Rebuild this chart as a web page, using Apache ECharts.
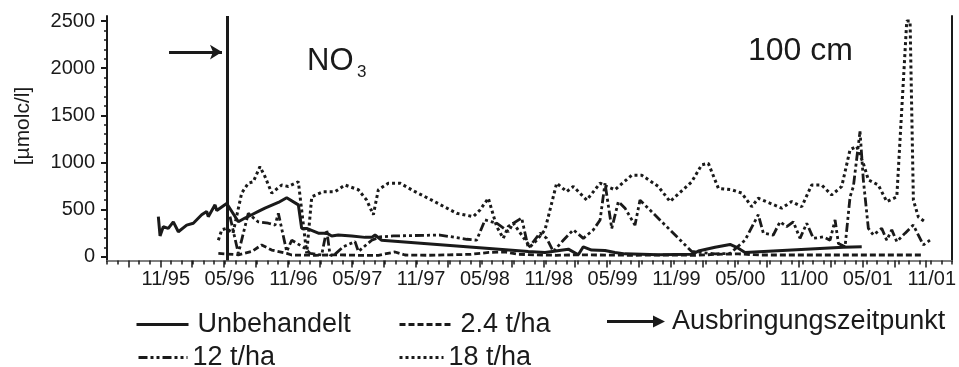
<!DOCTYPE html>
<html>
<head>
<meta charset="utf-8">
<script src="https://cdn.jsdelivr.net/npm/echarts@6/dist/echarts.min.js"></script>
<style>
html, body { margin: 0; padding: 0; background: #fff; }
#chart { width: 959px; height: 367px; }
</style>
</head>
<body>
<div id="chart"></div>
<script>
// x = months since 05/95 (11/95 = 6, 05/96 = 12 ...), y = µmolc/l
var tickLabels = ['11/95', '05/96', '11/96', '05/97', '11/97', '05/98', '11/98',
    '05/99', '11/99', '05/00', '11/00', '05/01', '11/01'];
var applicationMonth = 12.25;
var arrowFrom = [6.8, 2170];
var arrowTo = [11.75, 2170];

var unbehandelt = [
    [5.80, 425], [5.96, 220], [6.26, 318], [6.73, 300], [7.20, 370], [7.67, 265], [8.45, 335],
    [9.07, 355], [9.85, 445], [10.32, 480], [10.47, 425], [11.10, 550], [11.26, 490], [12.19, 565],
    [13.28, 370], [13.90, 410], [14.53, 445], [15.15, 480], [15.77, 515], [17.02, 575], [17.80, 625],
    [18.89, 550], [19.20, 300], [19.67, 300], [20.76, 250], [21.54, 250], [22.01, 220], [22.62, 230],
    [23.88, 220], [25.12, 205], [25.75, 205], [26.06, 230], [26.68, 175], [40.39, 55], [41.95, 45],
    [44.13, 80], [45.06, 20], [45.53, 105], [46.31, 70], [47.56, 65], [48.49, 45], [49.43, 30],
    [52.54, 20], [55.67, 25], [56.29, 60], [57.85, 100], [59.25, 130], [60.02, 90], [60.65, 45],
    [69.84, 100], [71.56, 105]
];
var t24 = [
    [11.41, 35], [12.03, 30], [13.28, 20], [14.53, 55], [15.46, 125], [16.40, 70], [17.80, 35],
    [18.27, 18], [20.5, 15], [22.5, 20], [24.5, 15], [26.37, 15], [27.93, 50], [28.86, 18],
    [31, 15], [33, 20], [35, 25], [36.7, 45], [38.21, 50], [39.5, 25], [41, 20], [43, 15],
    [45, 20], [47, 18], [50, 15], [53, 18], [56, 15], [58, 25], [60, 30], [62, 18], [65, 18],
    [68, 18], [71, 18], [74, 18], [77.3, 18]
];
var t12 = [
    [12.50, 425], [13.28, 35], [14.21, 460], [15.12, 370], [16.08, 355], [16.71, 335], [17.02, 460],
    [17.80, 55], [18.27, 175], [19.51, 90], [19.99, 35], [21.07, 18], [21.54, 285], [21.85, 18],
    [22.16, 10], [23.09, 105], [24.19, 160], [24.50, 55], [25.75, 175], [26.53, 210], [27.77, 220],
    [32.13, 230], [34.63, 185], [35.56, 175], [36.34, 390], [37.43, 355], [38.52, 265], [38.99, 355],
    [39.77, 410], [40.39, 90], [41.48, 250], [42.11, 195], [42.73, 55], [43.66, 175], [44.60, 285],
    [45.53, 195], [46.47, 285], [47.10, 390], [47.56, 780], [48.19, 300], [48.81, 585], [49.43, 515],
    [50.36, 335], [50.83, 600], [55.67, 55], [57.85, 30], [59.25, 35], [60.65, 175], [61.89, 445],
    [62.36, 250], [63.29, 230], [63.92, 370], [64.55, 320], [65.16, 370], [65.79, 195], [66.42, 355],
    [67.04, 195], [67.97, 210], [68.60, 175], [69.07, 390], [69.38, 140], [70.00, 105], [70.47, 635],
    [70.78, 745], [71.40, 1330], [71.71, 815], [72.18, 300], [72.65, 230], [73.43, 300], [73.90, 175],
    [74.37, 285], [74.84, 160], [75.62, 250], [76.38, 335], [77.32, 125], [77.94, 175]
];
var t18 = [
    [11.41, 175], [11.73, 285], [12.13, 300], [12.78, 250], [13.59, 675], [14.21, 780], [14.68, 795],
    [15.30, 955], [15.77, 850], [16.40, 675], [17.33, 760], [17.95, 745], [18.89, 795], [19.67, 35],
    [20.14, 635], [21.22, 690], [22.32, 690], [23.25, 760], [24.50, 710], [25.28, 600], [25.90, 445],
    [26.37, 710], [27.30, 780], [28.39, 780], [29.80, 690], [31.36, 600], [33.70, 460], [35.25, 425],
    [35.87, 495], [36.65, 620], [37.43, 320], [38.05, 195], [38.52, 320], [38.99, 355], [40.55, 105],
    [41.17, 175], [41.95, 285], [43.04, 780], [43.98, 690], [44.60, 745], [45.85, 600], [47.10, 780],
    [47.72, 745], [48.49, 710], [50.06, 865], [50.99, 865], [52.54, 745], [53.64, 585], [55.67, 795],
    [56.60, 975], [57.22, 990], [58.16, 725], [59.40, 710], [60.34, 675], [61.28, 530], [61.89, 620],
    [64.08, 515], [65.01, 585], [65.95, 530], [66.88, 760], [67.82, 760], [68.75, 655], [69.69, 745],
    [70.47, 1135], [71.09, 1170], [71.71, 990], [72.18, 815], [73.11, 760], [73.90, 585], [74.84, 635],
    [75.77, 2500], [76.08, 2500], [76.39, 600], [76.86, 420], [77.48, 370]
];

var ink = '#1a1a1a';
var font = 'Liberation Sans, Arial, sans-serif';

// plot box in pixels
var boxLeft = 107, boxRight = 7, boxTop = 16, boxBottom = 106.5;
var xMin = 1, xMax = 80;
var pxPerMonth = (959 - boxLeft - boxRight) / (xMax - xMin);
function px(m) { return boxLeft + (m - xMin) * pxPerMonth; }

function lineLegend(name, left, top, width, pad) {
    return {
        data: [name], left: left, top: top, itemWidth: width, itemHeight: 14, selectedMode: false,
        itemStyle: {opacity: 0},
        lineStyle: {width: 3},
        textStyle: {fontSize: 27, fontFamily: font, color: ink, padding: [0, 0, 0, pad]}
    };
}

var myChart = echarts.init(document.getElementById('chart'));
var option = {
    animation: false,
    grid: [
        {left: boxLeft, right: boxRight, top: boxTop, bottom: boxBottom},            // frame
        {left: boxLeft, right: boxRight, top: 21, bottom: 110.3},                    // data
        {left: px(3), right: 959 - px(78), top: boxTop, bottom: boxBottom}           // quarter ticks
    ],
    xAxis: [
        {gridIndex: 0, type: 'value', min: xMin, max: xMax, interval: 1,
            axisLine: {show: true, lineStyle: {color: ink, width: 2}},
            axisTick: {show: true, length: 4, lineStyle: {color: ink, width: 1.5}},
            axisLabel: {show: false}, splitLine: {show: false}},
        {gridIndex: 0, type: 'value', position: 'top', min: xMin, max: xMax,
            axisLine: {show: true, lineStyle: {color: '#808080', width: 2}},
            axisTick: {show: false}, axisLabel: {show: false}, splitLine: {show: false}},
        {gridIndex: 1, type: 'value', min: xMin, max: xMax, show: false},
        {gridIndex: 2, type: 'value', min: 3, max: 78, interval: 3,
            axisLine: {show: false},
            axisTick: {show: true, length: 7, lineStyle: {color: ink, width: 1.5}},
            axisLabel: {
                show: true, showMinLabel: true, showMaxLabel: true,
                margin: 9, padding: [0, 0, 0, 11],
                fontSize: 20, fontFamily: font, color: ink,
                formatter: function (v) {
                    return v % 6 === 0 ? tickLabels[v / 6 - 1] : '';
                }
            },
            splitLine: {show: false}}
    ],
    yAxis: [
        {gridIndex: 0, type: 'value', min: 0, max: 1,
            axisLine: {show: true, lineStyle: {color: ink, width: 2}},
            axisTick: {show: false}, axisLabel: {show: false}, splitLine: {show: false}},
        {gridIndex: 0, type: 'value', position: 'right', min: 0, max: 1,
            axisLine: {show: true, lineStyle: {color: ink, width: 2}},
            axisTick: {show: false}, axisLabel: {show: false}, splitLine: {show: false}},
        {gridIndex: 1, type: 'value', min: 0, max: 2500, interval: 500,
            axisLine: {show: false},
            axisTick: {show: true, length: 6, lineStyle: {color: ink, width: 2}},
            minorTick: {show: true, splitNumber: 5, length: 3, lineStyle: {color: ink, width: 1.5}},
            axisLabel: {fontSize: 20, fontFamily: font, color: ink, margin: 12,
                formatter: function (v) { return String(v); }},
            splitLine: {show: false}},
        {gridIndex: 2, type: 'value', min: 0, max: 1, show: false}
    ],
    legend: [
        lineLegend('Unbehandelt', 130, 306, 52, 4),
        lineLegend('2.4 t/ha', 393, 306, 54, 2),
        lineLegend('12 t/ha', 132, 339, 49, 0),
        lineLegend('18 t/ha', 393, 339, 44, 0),
        {data: ['Ausbringungszeitpunkt'], left: 602, top: 303, itemWidth: 58, itemHeight: 12, selectedMode: false,
            icon: 'path://M0,4.5L46,4.5L46,0L58,6L46,12L46,7.5L0,7.5Z',
            textStyle: {fontSize: 27, fontFamily: font, color: ink, padding: [0, 0, 0, 2]}}
    ],
    graphic: [
        {type: 'text', x: 23, y: 126, rotation: Math.PI / 2,
            style: {text: '[µmolc/l]', fontSize: 21, fontFamily: font, fill: ink, align: 'center', verticalAlign: 'middle'}},
        {type: 'text', x: 307, y: 61,
            style: {text: 'NO', fontSize: 31, fontFamily: font, fill: ink, verticalAlign: 'middle'}},
        {type: 'text', x: 357, y: 72,
            style: {text: '3', fontSize: 17, fontFamily: font, fill: ink, verticalAlign: 'middle'}},
        {type: 'text', x: 748, y: 51,
            style: {text: '100 cm', fontSize: 32, fontFamily: font, fill: ink, verticalAlign: 'middle'}}
    ],
    series: [
        {name: 'Unbehandelt', type: 'line', xAxisIndex: 2, yAxisIndex: 2, data: unbehandelt,
            symbol: 'none', clip: false, color: ink, lineStyle: {color: ink, width: 3}},
        {name: '2.4 t/ha', type: 'line', xAxisIndex: 2, yAxisIndex: 2, data: t24,
            symbol: 'none', clip: false, color: ink, lineStyle: {color: ink, width: 2.8, type: [6, 3]}},
        {name: '12 t/ha', type: 'line', xAxisIndex: 2, yAxisIndex: 2, data: t12,
            symbol: 'none', clip: false, color: ink, lineStyle: {color: ink, width: 2.8, type: [9, 3, 3, 3, 3, 3]}},
        {name: '18 t/ha', type: 'line', xAxisIndex: 2, yAxisIndex: 2, data: t18,
            symbol: 'none', clip: false, color: ink, lineStyle: {color: ink, width: 3, type: [3, 3]}},
        // application date: vertical line across the frame
        {name: 'Ausbringungszeitpunkt', type: 'line', xAxisIndex: 0, yAxisIndex: 0, data: [],
            color: ink,
            markLine: {silent: true, symbol: 'none', label: {show: false},
                lineStyle: {color: ink, width: 3, type: 'solid'},
                data: [{xAxis: applicationMonth}]}},
        // arrow pointing at it
        {name: 'Ausbringungszeitpunkt', type: 'line', xAxisIndex: 2, yAxisIndex: 2, data: [],
            color: ink,
            markLine: {silent: true, symbol: 'none', label: {show: false},
                lineStyle: {color: ink, width: 3, type: 'solid'},
                data: [[{coord: arrowFrom}, {coord: arrowTo, symbol: 'arrow', symbolSize: [11, 12]}]]}}
    ]
};
myChart.setOption(option);
</script>
</body>
</html>
